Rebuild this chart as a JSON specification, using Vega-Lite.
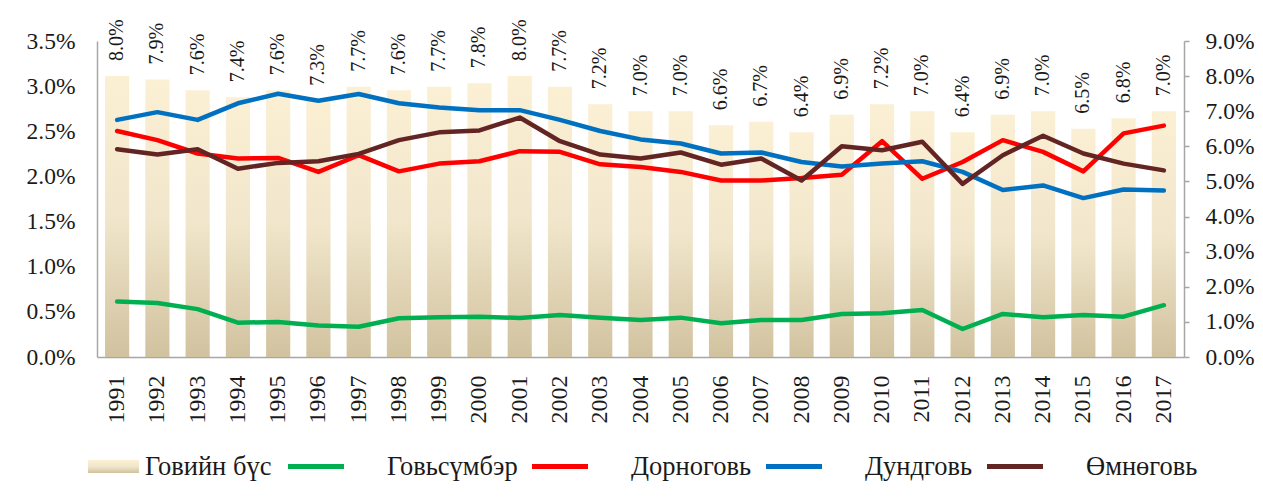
{
  "$schema": "https://vega.github.io/schema/vega-lite/v6.json",
  "width": 1087,
  "height": 316,
  "autosize": {"type": "none"},
  "padding": {"left": 97, "top": 41, "right": 79, "bottom": 142},
  "background": "white",
  "config": {"view": {"stroke": null}, "font": "Liberation Serif"},
  "datasets": {
    "bars": [
      {"year": "1991", "value": 0.080}, {"year": "1992", "value": 0.079}, {"year": "1993", "value": 0.076},
      {"year": "1994", "value": 0.074}, {"year": "1995", "value": 0.076}, {"year": "1996", "value": 0.073},
      {"year": "1997", "value": 0.077}, {"year": "1998", "value": 0.076}, {"year": "1999", "value": 0.077},
      {"year": "2000", "value": 0.078}, {"year": "2001", "value": 0.080}, {"year": "2002", "value": 0.077},
      {"year": "2003", "value": 0.072}, {"year": "2004", "value": 0.070}, {"year": "2005", "value": 0.070},
      {"year": "2006", "value": 0.066}, {"year": "2007", "value": 0.067}, {"year": "2008", "value": 0.064},
      {"year": "2009", "value": 0.069}, {"year": "2010", "value": 0.072}, {"year": "2011", "value": 0.070},
      {"year": "2012", "value": 0.064}, {"year": "2013", "value": 0.069}, {"year": "2014", "value": 0.070},
      {"year": "2015", "value": 0.065}, {"year": "2016", "value": 0.068}, {"year": "2017", "value": 0.070}
    ],
    "lines": [
      {"year": "1991", "series": "Говьсүмбэр", "value": 0.00614}, {"year": "1992", "series": "Говьсүмбэр", "value": 0.00597},
      {"year": "1993", "series": "Говьсүмбэр", "value": 0.0053}, {"year": "1994", "series": "Говьсүмбэр", "value": 0.0038},
      {"year": "1995", "series": "Говьсүмбэр", "value": 0.00388}, {"year": "1996", "series": "Говьсүмбэр", "value": 0.0035},
      {"year": "1997", "series": "Говьсүмбэр", "value": 0.00335}, {"year": "1998", "series": "Говьсүмбэр", "value": 0.0043},
      {"year": "1999", "series": "Говьсүмбэр", "value": 0.0044}, {"year": "2000", "series": "Говьсүмбэр", "value": 0.00447},
      {"year": "2001", "series": "Говьсүмбэр", "value": 0.00432}, {"year": "2002", "series": "Говьсүмбэр", "value": 0.00466},
      {"year": "2003", "series": "Говьсүмбэр", "value": 0.00436}, {"year": "2004", "series": "Говьсүмбэр", "value": 0.0041},
      {"year": "2005", "series": "Говьсүмбэр", "value": 0.00436}, {"year": "2006", "series": "Говьсүмбэр", "value": 0.00373},
      {"year": "2007", "series": "Говьсүмбэр", "value": 0.0041}, {"year": "2008", "series": "Говьсүмбэр", "value": 0.0041},
      {"year": "2009", "series": "Говьсүмбэр", "value": 0.00477}, {"year": "2010", "series": "Говьсүмбэр", "value": 0.00485},
      {"year": "2011", "series": "Говьсүмбэр", "value": 0.0052}, {"year": "2012", "series": "Говьсүмбэр", "value": 0.0031},
      {"year": "2013", "series": "Говьсүмбэр", "value": 0.00477}, {"year": "2014", "series": "Говьсүмбэр", "value": 0.0044},
      {"year": "2015", "series": "Говьсүмбэр", "value": 0.00466}, {"year": "2016", "series": "Говьсүмбэр", "value": 0.00447},
      {"year": "2017", "series": "Говьсүмбэр", "value": 0.00574},

      {"year": "1991", "series": "Дорноговь", "value": 0.02503}, {"year": "1992", "series": "Дорноговь", "value": 0.02402},
      {"year": "1993", "series": "Дорноговь", "value": 0.02254}, {"year": "1994", "series": "Дорноговь", "value": 0.02198},
      {"year": "1995", "series": "Дорноговь", "value": 0.02205}, {"year": "1996", "series": "Дорноговь", "value": 0.0205},
      {"year": "1997", "series": "Дорноговь", "value": 0.02235}, {"year": "1998", "series": "Дорноговь", "value": 0.02056},
      {"year": "1999", "series": "Дорноговь", "value": 0.02142}, {"year": "2000", "series": "Дорноговь", "value": 0.02168},
      {"year": "2001", "series": "Дорноговь", "value": 0.0228}, {"year": "2002", "series": "Дорноговь", "value": 0.02272},
      {"year": "2003", "series": "Дорноговь", "value": 0.02134}, {"year": "2004", "series": "Дорноговь", "value": 0.02105},
      {"year": "2005", "series": "Дорноговь", "value": 0.0205}, {"year": "2006", "series": "Дорноговь", "value": 0.01955},
      {"year": "2007", "series": "Дорноговь", "value": 0.01955}, {"year": "2008", "series": "Дорноговь", "value": 0.01982},
      {"year": "2009", "series": "Дорноговь", "value": 0.02019}, {"year": "2010", "series": "Дорноговь", "value": 0.0239},
      {"year": "2011", "series": "Дорноговь", "value": 0.01974}, {"year": "2012", "series": "Дорноговь", "value": 0.0216},
      {"year": "2013", "series": "Дорноговь", "value": 0.02402}, {"year": "2014", "series": "Дорноговь", "value": 0.02272},
      {"year": "2015", "series": "Дорноговь", "value": 0.02056}, {"year": "2016", "series": "Дорноговь", "value": 0.02477},
      {"year": "2017", "series": "Дорноговь", "value": 0.02563},

      {"year": "1991", "series": "Дундговь", "value": 0.02626}, {"year": "1992", "series": "Дундговь", "value": 0.02712},
      {"year": "1993", "series": "Дундговь", "value": 0.02626}, {"year": "1994", "series": "Дундговь", "value": 0.0281},
      {"year": "1995", "series": "Дундговь", "value": 0.02916}, {"year": "1996", "series": "Дундговь", "value": 0.02838},
      {"year": "1997", "series": "Дундговь", "value": 0.02913}, {"year": "1998", "series": "Дундговь", "value": 0.0281},
      {"year": "1999", "series": "Дундговь", "value": 0.02764}, {"year": "2000", "series": "Дундговь", "value": 0.02734},
      {"year": "2001", "series": "Дундговь", "value": 0.02734}, {"year": "2002", "series": "Дундговь", "value": 0.02626},
      {"year": "2003", "series": "Дундговь", "value": 0.02503}, {"year": "2004", "series": "Дундговь", "value": 0.0241},
      {"year": "2005", "series": "Дундговь", "value": 0.02365}, {"year": "2006", "series": "Дундговь", "value": 0.02254},
      {"year": "2007", "series": "Дундговь", "value": 0.02265}, {"year": "2008", "series": "Дундговь", "value": 0.0216},
      {"year": "2009", "series": "Дундговь", "value": 0.0211}, {"year": "2010", "series": "Дундговь", "value": 0.02142},
      {"year": "2011", "series": "Дундговь", "value": 0.02168}, {"year": "2012", "series": "Дундговь", "value": 0.0205},
      {"year": "2013", "series": "Дундговь", "value": 0.0185}, {"year": "2014", "series": "Дундговь", "value": 0.019},
      {"year": "2015", "series": "Дундговь", "value": 0.0176}, {"year": "2016", "series": "Дундговь", "value": 0.01855},
      {"year": "2017", "series": "Дундговь", "value": 0.01844},

      {"year": "1991", "series": "Өмнөговь", "value": 0.02302}, {"year": "1992", "series": "Өмнөговь", "value": 0.02242},
      {"year": "1993", "series": "Өмнөговь", "value": 0.02302}, {"year": "1994", "series": "Өмнөговь", "value": 0.02086},
      {"year": "1995", "series": "Өмнөговь", "value": 0.0215}, {"year": "1996", "series": "Өмнөговь", "value": 0.02168},
      {"year": "1997", "series": "Өмнөговь", "value": 0.0225}, {"year": "1998", "series": "Өмнөговь", "value": 0.02402},
      {"year": "1999", "series": "Өмнөговь", "value": 0.02488}, {"year": "2000", "series": "Өмнөговь", "value": 0.0251},
      {"year": "2001", "series": "Өмнөговь", "value": 0.02652}, {"year": "2002", "series": "Өмнөговь", "value": 0.0239},
      {"year": "2003", "series": "Өмнөговь", "value": 0.02242}, {"year": "2004", "series": "Өмнөговь", "value": 0.02198},
      {"year": "2005", "series": "Өмнөговь", "value": 0.02265}, {"year": "2006", "series": "Өмнөговь", "value": 0.0213},
      {"year": "2007", "series": "Өмнөговь", "value": 0.02198}, {"year": "2008", "series": "Өмнөговь", "value": 0.01955},
      {"year": "2009", "series": "Өмнөговь", "value": 0.02335}, {"year": "2010", "series": "Өмнөговь", "value": 0.0229},
      {"year": "2011", "series": "Өмнөговь", "value": 0.02384}, {"year": "2012", "series": "Өмнөговь", "value": 0.01918},
      {"year": "2013", "series": "Өмнөговь", "value": 0.02235}, {"year": "2014", "series": "Өмнөговь", "value": 0.02451},
      {"year": "2015", "series": "Өмнөговь", "value": 0.02254}, {"year": "2016", "series": "Өмнөговь", "value": 0.02142},
      {"year": "2017", "series": "Өмнөговь", "value": 0.02067}
    ]
  },
  "layer": [
    {
      "data": {"name": "bars"},
      "mark": {
        "type": "bar",
        "fill": {"gradient": "linear", "x1": 0, "y1": 0, "x2": 0, "y2": 1,
          "stops": [{"offset": 0, "color": "#FBEFD4"}, {"offset": 0.5, "color": "#F1E6CB"}, {"offset": 1, "color": "#D1C29F"}]}
      },
      "encoding": {
        "x": {"field": "year", "type": "ordinal", "scale": {"paddingInner": 0.4, "paddingOuter": 0.2},
          "axis": {"title": null, "labelAngle": 270, "labelAlign": "right", "labelBaseline": "middle", "labelPadding": 18,
            "ticks": false, "domainColor": "#A6A6A6", "domainWidth": 1.5, "labelFont": "Liberation Serif",
            "labelFontSize": 24, "labelColor": "#1A1A1A", "labelOverlap": false}},
        "y": {"field": "value", "type": "quantitative", "scale": {"domain": [0, 0.09], "nice": false},
          "axis": {"orient": "right", "title": null, "format": ".1%",
            "values": [0, 0.01, 0.02, 0.03, 0.04, 0.05, 0.06, 0.07, 0.08, 0.09],
            "ticks": true, "tickSize": 5, "tickColor": "#A6A6A6", "tickWidth": 1.5,
            "domainColor": "#A6A6A6", "domainWidth": 1.5, "grid": false, "labelPadding": 16,
            "labelFont": "Liberation Serif", "labelFontSize": 23.5, "labelColor": "#1A1A1A"}},
        "stroke": {"datum": "Говийн бүс", "type": "nominal", "scale": {"range": ["transparent"]},
          "legend": {
            "orient": "none", "legendX": -9, "legendY": 400, "title": null, "padding": 0,
            "symbolType": "M-1,-0.255H1V0.255H-1Z", "symbolSize": 2601, "symbolStrokeWidth": 0,
            "labelOffset": 6, "labelFont": "Liberation Serif", "labelFontSize": 26.5, "labelColor": "#1A1A1A", "labelLimit": 0
          }}
      }
    },
    {
      "data": {"name": "bars"},
      "mark": {"type": "text", "angle": 270, "align": "left", "baseline": "middle", "dx": 15,
        "font": "Liberation Serif", "fontSize": 20, "color": "#1A1A1A"},
      "encoding": {
        "x": {"field": "year", "type": "ordinal"},
        "y": {"field": "value", "type": "quantitative", "scale": {"domain": [0, 0.09], "nice": false}, "axis": null},
        "text": {"field": "value", "type": "quantitative", "format": ".1%"}
      }
    },
    {
      "data": {"name": "lines"},
      "mark": {"type": "line", "strokeWidth": 4.5, "strokeCap": "round", "strokeJoin": "round"},
      "encoding": {
        "x": {"field": "year", "type": "ordinal"},
        "y": {"field": "value", "type": "quantitative", "scale": {"domain": [0, 0.035], "nice": false},
          "axis": {"orient": "left", "title": null, "format": ".1%",
            "values": [0, 0.005, 0.01, 0.015, 0.02, 0.025, 0.03, 0.035],
            "ticks": false, "domainColor": "#A6A6A6", "domainWidth": 1.5, "grid": false, "labelPadding": 22,
            "labelFont": "Liberation Serif", "labelFontSize": 23.5, "labelColor": "#1A1A1A"}},
        "color": {"field": "series", "type": "nominal",
          "scale": {"domain": ["Говьсүмбэр", "Дорноговь", "Дундговь", "Өмнөговь"],
            "range": ["#00B050", "#FF0000", "#0070C0", "#632523"]},
          "legend": {
            "orient": "none", "legendX": 191, "legendY": 395, "direction": "horizontal", "title": null,
            "symbolSize": 3136, "symbolStrokeWidth": 5, "labelOffset": 38, "columnPadding": 4, "padding": 0,
            "labelFont": "Liberation Serif", "labelFontSize": 26.5, "labelColor": "#1A1A1A", "labelLimit": 0,
            "symbolType": "M-1.089,0H0.911"
          }
        }
      }
    }
  ],
  "resolve": {"scale": {"y": "independent"}}
}
